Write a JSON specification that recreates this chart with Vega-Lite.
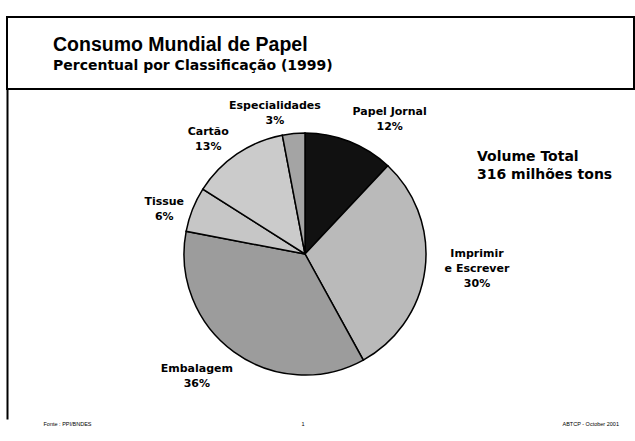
{
  "$schema": "https://vega.github.io/schema/vega-lite/v6.json",
  "padding": {"left": 6, "top": 16, "right": 0, "bottom": 0},
  "spacing": 0,
  "bounds": "flush",
  "background": "white",
  "config": {
    "font": "DejaVu Sans",
    "view": {"stroke": null}
  },
  "vconcat": [
    {
      "width": 627,
      "height": 72,
      "view": {"stroke": "black", "strokeWidth": 2},
      "title": {
        "text": "Consumo Mundial de Papel",
        "subtitle": "Percentual por Classificação (1999)",
        "anchor": "start",
        "frame": "group",
        "dx": 46,
        "offset": -57,
        "font": "Liberation Sans",
        "fontSize": 19.5,
        "fontWeight": "bold",
        "color": "black",
        "subtitleFont": "DejaVu Sans",
        "subtitleFontSize": 14,
        "subtitleFontWeight": "bold",
        "subtitleColor": "black",
        "subtitlePadding": 4
      },
      "data": {"values": []},
      "mark": {"type": "point", "opacity": 0},
      "encoding": {}
    },
    {
      "width": 596,
      "height": 330,
      "view": {"stroke": null},
      "title": {
        "text": ["Volume Total", "316 milhões tons"],
        "anchor": "start",
        "frame": "group",
        "dx": 470,
        "offset": -93,
        "font": "DejaVu Sans",
        "fontSize": 14,
        "fontWeight": "bold",
        "lineHeight": 18,
        "color": "black"
      },
      "layer": [
        {
          "data": {
            "values": [
              {"n": 1, "cat": "Papel Jornal", "pct": 12, "label": "Papel Jornal\n12%"},
              {"n": 2, "cat": "Imprimir e Escrever", "pct": 30, "label": "Imprimir\ne Escrever\n30%"},
              {"n": 3, "cat": "Embalagem", "pct": 36, "label": "Embalagem\n36%"},
              {"n": 4, "cat": "Tissue", "pct": 6, "label": "Tissue\n6%"},
              {"n": 5, "cat": "Cartão", "pct": 13, "label": "Cartão\n13%"},
              {"n": 6, "cat": "Especialidades", "pct": 3, "label": "Especialidades\n3%"}
            ]
          },
          "encoding": {
            "theta": {"field": "pct", "type": "quantitative", "stack": true},
            "order": {"field": "n", "type": "quantitative"}
          },
          "layer": [
            {
              "mark": {"type": "arc", "outerRadius": 121, "stroke": "black", "strokeWidth": 1.5},
              "encoding": {
                "color": {
                  "field": "cat",
                  "type": "nominal",
                  "scale": {
                    "domain": ["Papel Jornal", "Imprimir e Escrever", "Embalagem", "Tissue", "Cartão", "Especialidades"],
                    "range": ["#111111", "#bababa", "#9c9c9c", "#c6c6c6", "#cbcbcb", "#a4a4a4"]
                  },
                  "legend": null
                }
              }
            },
            {
              "mark": {
                "type": "text",
                "font": "DejaVu Sans",
                "fontSize": 11,
                "fontWeight": "bold",
                "lineBreak": "\n",
                "lineHeight": 15,
                "color": "black",
                "baseline": "middle",
                "align": "center",
                "radius": 144,
                "thetaOffset": {"expr": "datum.cat === 'Papel Jornal' ? 0.162 : datum.cat === 'Imprimir e Escrever' ? -0.126 : datum.cat === 'Embalagem' ? 0.126 : datum.cat === 'Tissue' ? -0.024 : datum.cat === 'Cartão' ? -0.072 : -0.106"},
                "radiusOffset": {"expr": "datum.cat === 'Papel Jornal' ? 21 : datum.cat === 'Imprimir e Escrever' ? 28 : datum.cat === 'Embalagem' ? 14 : datum.cat === 'Tissue' ? 6 : datum.cat === 'Cartão' ? 12 : 7"}
              },
              "encoding": {
                "text": {"field": "label"}
              }
            }
          ]
        },
        {
          "data": {
            "values": [
              {"note": "Fonte : PPI/BNDES"},
              {"note": "1"},
              {"note": "ABTCP - October 2001"}
            ]
          },
          "mark": {"type": "point", "opacity": 0},
          "encoding": {
            "x": {
              "field": "note",
              "type": "nominal",
              "sort": null,
              "scale": {"type": "point", "padding": 0.1484, "align": 0.4675},
              "axis": {
                "orient": "bottom",
                "title": null,
                "domain": false,
                "ticks": false,
                "grid": false,
                "labelAngle": 0,
                "labelFont": "Liberation Sans",
                "labelFontSize": 5.5,
                "labelPadding": 2,
                "labelColor": "black",
                "labelOverlap": false,
                "labelBound": false,
                "labelFlush": false,
                "labelAlign": {"condition": {"test": "datum.value === '1'", "value": "center"}, "value": "left"}
              }
            },
            "y": {
              "field": "note",
              "type": "nominal",
              "sort": null,
              "axis": {
                "orient": "left",
                "title": null,
                "labels": false,
                "ticks": false,
                "grid": false,
                "domain": true,
                "domainColor": "black",
                "domainWidth": 2
              }
            }
          }
        }
      ]
    }
  ]
}
